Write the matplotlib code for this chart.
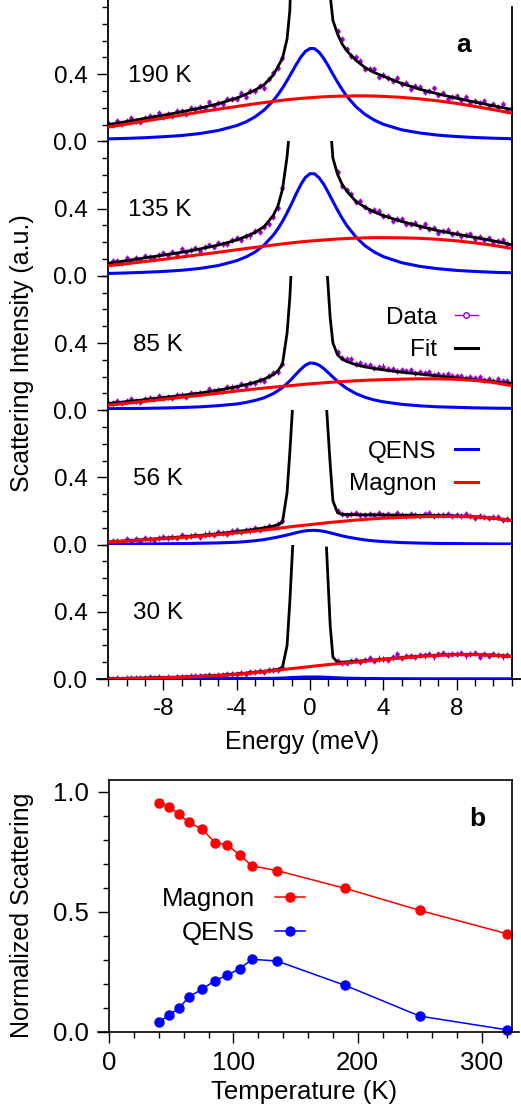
import numpy as np
import matplotlib
matplotlib.use('Agg')
import matplotlib.pyplot as plt
from matplotlib.ticker import MultipleLocator, FixedLocator, FormatStrFormatter
from matplotlib.lines import Line2D

plt.rcParams['font.family'] = ['Liberation Sans', 'DejaVu Sans']
plt.rcParams['axes.unicode_minus'] = False

nan = np.nan

# ---- panel a: energy grids (meV) ----
e_curve = [-11, -10, -9, -8, -7, -6, -5, -4, -3.5, -3, -2.5,
           -2, -1.75, -1.5, -1.25, -1, -0.75, -0.5, -0.25, 0, 0.25, 0.5, 0.75, 1, 1.25, 1.5, 1.75, 2,
           2.5, 3, 3.5, 4, 5, 6, 7, 8, 9, 10, 11]
e_fit = [-11, -10, -9, -8, -7, -6, -5, -4, -3.5, -3, -2.5, -2, -1.75, -1.5, -1.25, -1.1, -0.9, 0,
         0.9, 1.1, 1.25, 1.5, 1.75, 2, 2.5, 3, 3.5, 4, 5, 6, 7, 8, 9, 10, 11]
e_data = list(np.arange(-11, -1.4, 0.25)) + list(np.arange(1.5, 11.1, 0.25))

temps = ['190 K', '135 K', '85 K', '56 K', '30 K']

# 190 K
qens_190 = [0.015, 0.018, 0.022, 0.028, 0.035, 0.047, 0.065, 0.094, 0.116, 0.146, 0.187,
            0.243, 0.278, 0.318, 0.362, 0.41, 0.458, 0.502, 0.536, 0.553, 0.552, 0.53, 0.494, 0.449, 0.40, 0.353, 0.309, 0.27,
            0.207, 0.161, 0.127, 0.102, 0.069, 0.05, 0.037, 0.029, 0.023, 0.019, 0.016]
magnon_190 = [0.085, 0.103, 0.121, 0.139, 0.157, 0.175, 0.192, 0.208, 0.216, 0.224, 0.231,
              0.238, 0.2415, 0.245, 0.248, 0.251, 0.2535, 0.256, 0.258, 0.26, 0.262, 0.264, 0.2655, 0.267, 0.268, 0.269, 0.2695, 0.27,
              0.271, 0.271, 0.27, 0.268, 0.262, 0.253, 0.241, 0.226, 0.208, 0.189, 0.168]
fit_190 = [0.10, 0.118, 0.137, 0.156, 0.176, 0.198, 0.224, 0.258, 0.28, 0.305, 0.338, 0.395, 0.445, 0.495, 0.61, 0.78, 1.41, nan,
           1.3, 0.87, 0.72, 0.64, 0.58, 0.54, 0.483, 0.44, 0.41, 0.388, 0.345, 0.31, 0.282, 0.257, 0.234, 0.212, 0.19]
data_190 = [0.108, 0.100, 0.121, 0.105, 0.121, 0.138, 0.122, 0.118, 0.142, 0.153, 0.144, 0.169, 0.148, 0.163, 0.154,
            0.18, 0.182, 0.165, 0.201, 0.19, 0.203, 0.196, 0.232, 0.213, 0.227, 0.222, 0.253, 0.25, 0.252, 0.286,
            0.266, 0.30, 0.302, 0.33, 0.32, 0.372, 0.409, 0.437, 0.498,
            0.658, 0.61, 0.549, 0.506, 0.505, 0.476, 0.43, 0.431, 0.43, 0.384, 0.398, 0.38, 0.359, 0.38, 0.342,
            0.348, 0.314, 0.327, 0.326, 0.294, 0.30, 0.317, 0.276, 0.286, 0.254, 0.266, 0.271, 0.247, 0.264, 0.23,
            0.24, 0.227, 0.238, 0.206, 0.221, 0.204, 0.221, 0.188, 0.196]

# 135 K
qens_135 = [0.014, 0.017, 0.021, 0.026, 0.033, 0.044, 0.061, 0.09, 0.112, 0.141, 0.183,
            0.242, 0.28, 0.324, 0.375, 0.43, 0.489, 0.543, 0.586, 0.608, 0.607, 0.583, 0.545, 0.495, 0.443, 0.391, 0.343, 0.30,
            0.231, 0.179, 0.142, 0.114, 0.078, 0.056, 0.042, 0.032, 0.026, 0.021, 0.018]
magnon_135 = [0.06, 0.072, 0.085, 0.098, 0.112, 0.126, 0.14, 0.155, 0.162, 0.169, 0.176,
              0.183, 0.1865, 0.19, 0.193, 0.196, 0.199, 0.202, 0.2045, 0.207, 0.209, 0.211, 0.213, 0.215, 0.217, 0.219, 0.2205, 0.222,
              0.224, 0.226, 0.227, 0.227, 0.226, 0.223, 0.217, 0.208, 0.196, 0.181, 0.163]
fit_135 = [0.075, 0.09, 0.107, 0.123, 0.14, 0.16, 0.183, 0.213, 0.234, 0.258, 0.293, 0.36, 0.415, 0.515, 0.71, 0.89, 1.4, nan,
           1.4, 0.914, 0.70, 0.605, 0.545, 0.505, 0.443, 0.408, 0.38, 0.358, 0.323, 0.295, 0.268, 0.248, 0.228, 0.208, 0.185]
data_135 = [0.069, 0.088, 0.086, 0.074, 0.104, 0.09, 0.106, 0.094, 0.119, 0.113, 0.10, 0.125, 0.134, 0.124, 0.14,
            0.126, 0.157, 0.14, 0.152, 0.164, 0.147, 0.17, 0.182, 0.17, 0.198, 0.188, 0.19, 0.212, 0.225, 0.212,
            0.237, 0.24, 0.267, 0.26, 0.289, 0.308, 0.351, 0.403, 0.521,
            0.62, 0.537, 0.509, 0.486, 0.437, 0.444, 0.411, 0.384, 0.389, 0.383, 0.354, 0.356, 0.328, 0.337, 0.339,
            0.309, 0.311, 0.313, 0.29, 0.308, 0.278, 0.283, 0.254, 0.269, 0.271, 0.251, 0.257, 0.234, 0.242, 0.25,
            0.222, 0.233, 0.215, 0.225, 0.20, 0.207, 0.212, 0.187, 0.192]

# 85 K
qens_85 = [0.009, 0.01, 0.011, 0.013, 0.016, 0.02, 0.027, 0.037, 0.046, 0.058, 0.074,
           0.099, 0.116, 0.135, 0.159, 0.186, 0.216, 0.244, 0.268, 0.281, 0.279, 0.268, 0.248, 0.223, 0.197, 0.172, 0.15, 0.13,
           0.099, 0.077, 0.061, 0.05, 0.035, 0.026, 0.02, 0.017, 0.014, 0.012, 0.011]
magnon_85 = [0.03, 0.041, 0.053, 0.065, 0.077, 0.089, 0.101, 0.114, 0.12, 0.126, 0.132,
             0.137, 0.1395, 0.142, 0.1445, 0.147, 0.1495, 0.152, 0.1545, 0.157, 0.159, 0.161, 0.163, 0.165, 0.167, 0.169, 0.1705, 0.172,
             0.175, 0.178, 0.18, 0.182, 0.185, 0.187, 0.187, 0.184, 0.177, 0.165, 0.146]
fit_85 = [0.04, 0.051, 0.063, 0.075, 0.088, 0.102, 0.119, 0.14, 0.152, 0.166, 0.185, 0.212, 0.235, 0.275, 0.46, 0.67, 1.1, nan,
          0.883, 0.55, 0.4, 0.33, 0.305, 0.29, 0.271, 0.258, 0.248, 0.24, 0.226, 0.215, 0.203, 0.192, 0.181, 0.17, 0.158]
data_85 = [0.045, 0.04, 0.054, 0.042, 0.053, 0.064, 0.053, 0.051, 0.066, 0.073, 0.067, 0.084, 0.07, 0.079, 0.074,
           0.091, 0.092, 0.08, 0.104, 0.098, 0.105, 0.10, 0.124, 0.112, 0.121, 0.117, 0.138, 0.135, 0.136, 0.157,
           0.143, 0.164, 0.164, 0.182, 0.173, 0.202, 0.221, 0.23, 0.277,
           0.345, 0.313, 0.302, 0.302, 0.277, 0.278, 0.267, 0.271, 0.252, 0.257, 0.26, 0.244, 0.244, 0.232, 0.242,
           0.233, 0.242, 0.223, 0.227, 0.22, 0.226, 0.208, 0.216, 0.209, 0.216, 0.201, 0.203, 0.204, 0.19, 0.198,
           0.189, 0.196, 0.182, 0.185, 0.173, 0.183, 0.173, 0.174, 0.168]

# 56 K
qens_56 = [0.003, 0.003, 0.004, 0.005, 0.006, 0.008, 0.01, 0.014, 0.018, 0.023, 0.03,
           0.04, 0.045, 0.051, 0.057, 0.064, 0.071, 0.077, 0.082, 0.084, 0.085, 0.083, 0.079, 0.073, 0.066, 0.059, 0.052, 0.046,
           0.036, 0.028, 0.022, 0.018, 0.012, 0.009, 0.007, 0.006, 0.005, 0.004, 0.004]
magnon_56 = [0.014, 0.021, 0.028, 0.035, 0.043, 0.051, 0.06, 0.07, 0.075, 0.081, 0.087,
             0.093, 0.0965, 0.1, 0.1035, 0.107, 0.11, 0.113, 0.116, 0.119, 0.122, 0.125, 0.128, 0.131, 0.1335, 0.136, 0.1385, 0.141,
             0.146, 0.15, 0.154, 0.157, 0.162, 0.166, 0.168, 0.168, 0.165, 0.157, 0.143]
fit_56 = [0.016, 0.023, 0.03, 0.038, 0.046, 0.055, 0.065, 0.077, 0.084, 0.091, 0.1, 0.11, 0.118, 0.135, 0.31, 0.55, 0.907, nan,
          0.82, 0.48, 0.26, 0.19, 0.18, 0.179, 0.178, 0.177, 0.177, 0.176, 0.175, 0.174, 0.173, 0.171, 0.166, 0.157, 0.143]
data_56 = [0.012, 0.024, 0.022, 0.014, 0.031, 0.023, 0.032, 0.022, 0.037, 0.033, 0.026, 0.04, 0.044, 0.038, 0.047,
           0.038, 0.055, 0.045, 0.052, 0.059, 0.048, 0.06, 0.066, 0.058, 0.073, 0.067, 0.066, 0.078, 0.084, 0.074,
           0.086, 0.084, 0.096, 0.088, 0.098, 0.112, 0.105, 0.121, 0.139,
           0.198, 0.183, 0.177, 0.184, 0.188, 0.174, 0.179, 0.184, 0.174, 0.186, 0.177, 0.181, 0.17, 0.187, 0.178,
           0.173, 0.182, 0.178, 0.169, 0.184, 0.188, 0.17, 0.179, 0.174, 0.181, 0.168, 0.178, 0.169, 0.18, 0.17,
           0.16, 0.172, 0.164, 0.156, 0.162, 0.162, 0.148, 0.15, 0.149]

# 30 K
qens_30 = [0.001, 0.001, 0.001, 0.001, 0.001, 0.002, 0.002, 0.003, 0.003, 0.003, 0.004,
           0.004, 0.005, 0.006, 0.007, 0.009, 0.01, 0.011, 0.012, 0.012, 0.012, 0.012, 0.011, 0.01, 0.008, 0.007, 0.006, 0.005,
           0.004, 0.003, 0.003, 0.002, 0.002, 0.001, 0.001, 0.001, 0.001, 0.001, 0.001]
magnon_30 = [0.001, 0.002, 0.004, 0.007, 0.01, 0.015, 0.02, 0.028, 0.033, 0.038, 0.044,
             0.05, 0.053, 0.056, 0.059, 0.062, 0.065, 0.068, 0.071, 0.074, 0.077, 0.08, 0.083, 0.086, 0.0885, 0.091, 0.0935, 0.096,
             0.101, 0.106, 0.111, 0.116, 0.126, 0.135, 0.141, 0.145, 0.145, 0.141, 0.134]
fit_30 = [0.002, 0.004, 0.006, 0.009, 0.012, 0.017, 0.022, 0.03, 0.035, 0.04, 0.046, 0.053, 0.057, 0.07, 0.2, 0.46, 0.885, nan,
          0.78, 0.32, 0.13, 0.1, 0.1, 0.102, 0.105, 0.109, 0.113, 0.118, 0.127, 0.136, 0.142, 0.146, 0.146, 0.142, 0.135]
data_30 = [0.004, 0.002, 0.006, 0.002, 0.005, 0.008, 0.003, 0.003, 0.007, 0.01, 0.006, 0.012, 0.007, 0.01, 0.008,
           0.013, 0.014, 0.009, 0.018, 0.016, 0.018, 0.016, 0.024, 0.02, 0.023, 0.021, 0.029, 0.028, 0.028, 0.036,
           0.032, 0.04, 0.039, 0.045, 0.042, 0.052, 0.056, 0.055, 0.071,
           0.106, 0.097, 0.094, 0.108, 0.114, 0.101, 0.111, 0.123, 0.109, 0.122, 0.121, 0.111, 0.128, 0.147, 0.125,
           0.137, 0.136, 0.129, 0.142, 0.14, 0.148, 0.134, 0.146, 0.154, 0.141, 0.151, 0.148, 0.154, 0.14, 0.151,
           0.153, 0.13, 0.147, 0.139, 0.151, 0.142, 0.134, 0.143, 0.139]
data_err = 0.018

# ---- panel b ----
temp_b = [40, 48, 56, 64, 75, 85, 95, 105, 115, 135, 190, 250, 320]
magnon_b = [0.955, 0.939, 0.907, 0.873, 0.844, 0.789, 0.779, 0.737, 0.692, 0.672, 0.598, 0.506, 0.409]
qens_b = [0.040, 0.070, 0.097, 0.145, 0.178, 0.213, 0.236, 0.263, 0.302, 0.295, 0.193, 0.065, 0.008]

purple = '#9a00d0'
red = '#ff0000'
blue = '#0000ff'

W, H = 521, 1110
fig = plt.figure(figsize=(W / 100, H / 100), dpi=100)

# stacked axes of panel a (pixel layout)
left_px, right_px = 108.3, 511.7
bottom_px = 679.0
panel_px = 134.4
top_ylim = 0.843

fits = [fit_190, fit_135, fit_85, fit_56, fit_30]
qens = [qens_190, qens_135, qens_85, qens_56, qens_30]
magnons = [magnon_190, magnon_135, magnon_85, magnon_56, magnon_30]
datas = [data_190, data_135, data_85, data_56, data_30]
label_x = [-9.9, -9.9, -9.65, -9.65, -9.65]

axes = []
for i in range(5):
    k = 4 - i  # 0 at the bottom
    y0 = bottom_px - k * panel_px
    if i == 0:
        h = panel_px * top_ylim / 0.8
    else:
        h = panel_px
    ax = fig.add_axes([left_px / W, 1 - y0 / H, (right_px - left_px) / W, h / H])
    axes.append(ax)

    ax.errorbar(e_data, datas[i], yerr=data_err, fmt='o', ms=2.2, color=purple,
                elinewidth=0.8, capsize=0, zorder=2)
    ax.plot(e_fit, fits[i], color='black', lw=2.0, zorder=3)
    ax.plot(e_curve, qens[i], color=blue, lw=2.2, zorder=4)
    ax.plot(e_curve, magnons[i], color=red, lw=2.2, zorder=5)

    ax.set_xlim(-11, 11)
    ax.set_ylim(0, top_ylim if i == 0 else 0.8)
    ax.text(label_x[i], 0.39, temps[i], fontsize=17.5, ha='left', va='center')

    ax.yaxis.set_major_locator(FixedLocator([0.0, 0.4]))
    ax.yaxis.set_minor_locator(MultipleLocator(0.1))
    ax.yaxis.set_major_formatter(FormatStrFormatter('%.1f'))
    ax.tick_params(axis='y', which='major', length=8, width=1, pad=7, labelsize=17.5, right=False)
    ax.tick_params(axis='y', which='minor', length=4.3, width=1, right=False)
    ax.spines['top'].set_visible(False)
    for s in ['left', 'right', 'bottom']:
        ax.spines[s].set_linewidth(1.3)
    if i == 0:
        ax.spines['right'].set_bounds(0, 0.8)
    if i < 4:
        ax.spines['bottom'].set_visible(False)
        ax.tick_params(axis='x', which='both', bottom=False, labelbottom=False)

ax_bot = axes[-1]
ax_bot.xaxis.set_major_locator(FixedLocator([-8, -4, 0, 4, 8]))
ax_bot.xaxis.set_minor_locator(MultipleLocator(1))
ax_bot.tick_params(axis='x', which='major', length=8, width=1, pad=6, labelsize=17.5)
ax_bot.tick_params(axis='x', which='minor', length=5, width=1)
ax_bot.spines['bottom'].set_bounds(-11.6, 11.5)

axes[0].text(8.4, 0.576, 'a', fontsize=19, fontweight='bold', ha='center', va='center')

# legends of panel a
data_h = Line2D([], [], color=purple, lw=1, marker='o', ms=4, mfc='white', mec=purple)
fit_h = Line2D([], [], color='black', lw=2.2)
qens_h = Line2D([], [], color=blue, lw=2.2)
mag_h = Line2D([], [], color=red, lw=2.2)
leg_kw = dict(frameon=False, markerfirst=False, handlelength=0.95, handletextpad=0.75,
              labelspacing=0.42, borderpad=0, borderaxespad=0, fontsize=17.5, numpoints=1,
              loc='center right', bbox_transform=fig.transFigure)
axes[2].legend([data_h, fit_h], ['Data', 'Fit'], bbox_to_anchor=(478 / W, 1 - 334 / H), **leg_kw)
axes[3].legend([qens_h, mag_h], ['QENS', 'Magnon'], bbox_to_anchor=(478 / W, 1 - 468 / H), **leg_kw)

fig.text(22 / W, 1 - 353 / H, 'Scattering Intensity (a.u.)', rotation=90,
         ha='center', va='center', fontsize=18)
fig.text(302.5 / W, 1 - 741.7 / H, 'Energy (meV)', ha='center', va='center', fontsize=18)

# ---- panel b ----
axb = fig.add_axes([109.3 / W, 1 - 1031.7 / H, (511.7 - 109.3) / W, (1031.7 - 780) / H])
axb.plot(temp_b, magnon_b, color=red, lw=1.1, marker='o', ms=6.5, label='Magnon', clip_on=False)
axb.plot(temp_b, qens_b, color=blue, lw=1.1, marker='o', ms=6.5, label='QENS', clip_on=False)
axb.set_xlim(0, 324)
axb.set_ylim(0, 1.05)
axb.xaxis.set_major_locator(MultipleLocator(100))
axb.xaxis.set_minor_locator(MultipleLocator(20))
axb.yaxis.set_major_locator(MultipleLocator(0.5))
axb.yaxis.set_minor_locator(MultipleLocator(0.1))
axb.yaxis.set_major_formatter(FormatStrFormatter('%.1f'))
axb.tick_params(which='major', length=8, width=1, labelsize=18.5)
axb.tick_params(axis='y', which='major', pad=7)
axb.tick_params(axis='x', which='major', pad=6)
axb.tick_params(which='minor', length=4.3, width=1)
for s in axb.spines.values():
    s.set_linewidth(1.2)
axb.spines['bottom'].set_bounds(-9, 330)
axb.legend(frameon=False, markerfirst=False, handlelength=1.17, handletextpad=0.78,
           labelspacing=0.42, borderpad=0, borderaxespad=0, fontsize=18.5, numpoints=1,
           loc='center right', bbox_to_anchor=(305 / W, 1 - 916 / H), bbox_transform=fig.transFigure)
axb.text(296.5, 0.886, 'b', fontsize=19, fontweight='bold', ha='center', va='center')

fig.text(22 / W, 1 - 915.5 / H, 'Normalized Scattering', rotation=90,
         ha='center', va='center', fontsize=18)
fig.text(304 / W, 1 - 1091.7 / H, 'Temperature (K)', ha='center', va='center', fontsize=18.5)

fig.savefig('out.png', dpi=100)
